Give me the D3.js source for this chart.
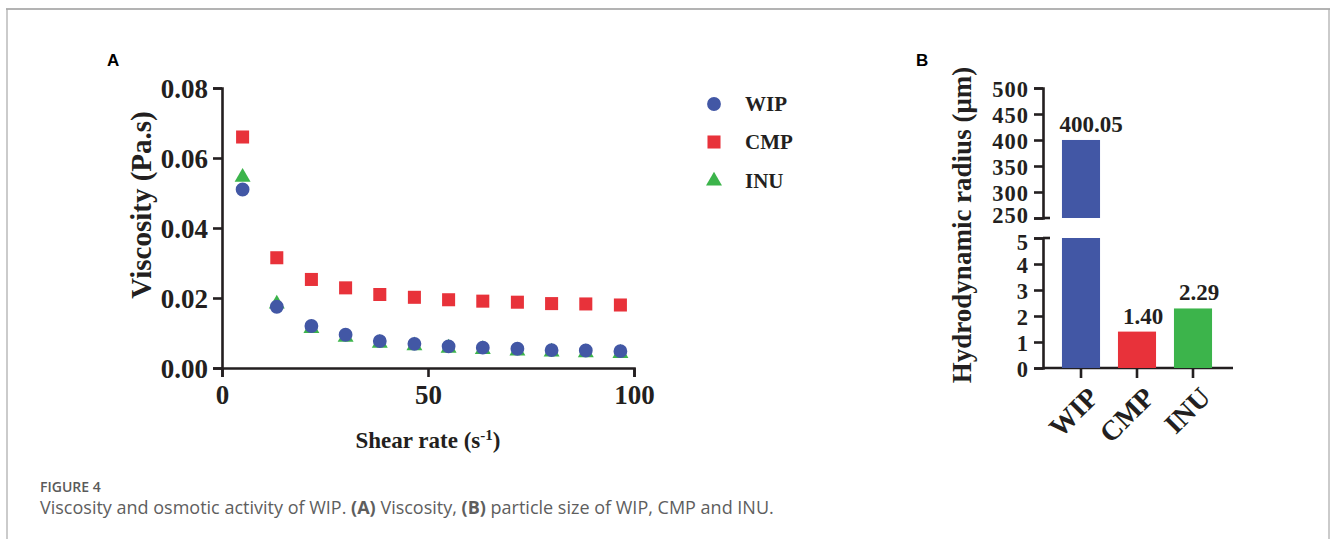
<!DOCTYPE html>
<html>
<head>
<meta charset="utf-8">
<script src="https://cdn.jsdelivr.net/npm/d3@7"></script>
<style>
  body { margin: 0; background: #fff; }
  svg { display: block; }
</style>
</head>
<body>
<div id="chart"></div>
<script>
// panel A: viscosity vs shear rate
const shearRates = [5, 13.3, 21.7, 30, 38.3, 46.7, 55, 63.3, 71.7, 80, 88.3, 96.7];
const wipVisc = [0.051, 0.0175, 0.012, 0.0095, 0.0077, 0.0069, 0.0062, 0.0058, 0.0055, 0.0051, 0.005, 0.0048];
const cmpVisc = [0.066, 0.0315, 0.0253, 0.0229, 0.021, 0.0202, 0.0195, 0.0191, 0.0188, 0.0184, 0.0183, 0.018];
const inuVisc = [0.0545, 0.0183, 0.0113, 0.0088, 0.0071, 0.0064, 0.0057, 0.0053, 0.0049, 0.0046, 0.0044, 0.0042];
const viscTicks = [0, 0.02, 0.04, 0.06, 0.08];
const shearTicks = [0, 50, 100];

// panel B: particle size
const samples = ["WIP", "CMP", "INU"];
const radius = [400.05, 1.40, 2.29];
const lowTicks = [0, 1, 2, 3, 4, 5];
const highTicks = [250, 300, 350, 400, 450, 500];

const colors = { WIP: "#4257a5", CMP: "#e8323a", INU: "#3cb44b" };
const serif = "'Liberation Serif', 'Times New Roman', serif";
const ink = "#231f20";

const W = 1330, H = 539;
const svg = d3.select("#chart").append("svg").attr("width", W).attr("height", H);

// figure frame
svg.append("line").attr("x1", 6).attr("x2", W).attr("y1", 9).attr("y2", 9)
  .attr("stroke", "#b3b3b3").attr("stroke-width", 2);
svg.append("line").attr("x1", 7).attr("x2", 7).attr("y1", 9).attr("y2", H)
  .attr("stroke", "#a8a8a8").attr("stroke-width", 1.2);
svg.append("line").attr("x1", 1329).attr("x2", 1329).attr("y1", 9).attr("y2", H)
  .attr("stroke", "#a8a8a8").attr("stroke-width", 1.2);

// panel letters
svg.append("text").attr("x", 107).attr("y", 66).text("A")
  .style("font-family", "Arial, 'Liberation Sans', sans-serif").style("font-weight", "bold").style("font-size", "17px");
svg.append("text").attr("x", 916).attr("y", 66).text("B")
  .style("font-family", "Arial, 'Liberation Sans', sans-serif").style("font-weight", "bold").style("font-size", "17px");

function styleAxis(g, size) {
  g.select(".domain").attr("stroke", ink).attr("stroke-width", 2.6);
  g.selectAll(".tick line").attr("stroke", ink).attr("stroke-width", 2.6);
  g.selectAll(".tick text").attr("fill", ink)
    .style("font-family", serif).style("font-weight", "bold").style("font-size", size + "px");
}

// ---------- Panel A ----------
const x = d3.scaleLinear().domain([0, 100]).range([222, 634]);
const y = d3.scaleLinear().domain([0, 0.08]).range([368, 88]);

const ax = svg.append("g").attr("transform", "translate(0,368)")
  .call(d3.axisBottom(x).tickValues(shearTicks).tickSizeOuter(0).tickSize(9).tickPadding(8));
styleAxis(ax, 27);

const ay = svg.append("g").attr("transform", "translate(222,0)")
  .call(d3.axisLeft(y).tickValues(viscTicks).tickFormat(d3.format(".2f")).tickSizeOuter(0).tickSize(9).tickPadding(5));
styleAxis(ay, 27);
ay.selectAll(".tick text").attr("dy", "0.36em");

svg.append("text")
  .attr("transform", "translate(151,205) rotate(-90)")
  .attr("text-anchor", "middle")
  .style("font-family", serif).style("font-weight", "bold").style("font-size", "29px").attr("fill", ink)
  .text("Viscosity (Pa.s)");

const xl = svg.append("text").attr("x", 428).attr("y", 448).attr("text-anchor", "middle")
  .style("font-family", serif).style("font-weight", "bold").style("font-size", "23px").attr("fill", ink);
xl.append("tspan").text("Shear rate (s");
xl.append("tspan").text("-1").attr("dy", -8).style("font-size", "15px");
xl.append("tspan").text(")").attr("dy", 8);

const rows = shearRates.map((s, i) => ({ s, WIP: wipVisc[i], CMP: cmpVisc[i], INU: inuVisc[i] }));
const sym = {
  WIP: d3.symbol(d3.symbolCircle, 150),
  CMP: d3.symbol(d3.symbolSquare, 170),
  INU: d3.symbol(d3.symbolTriangle, 110)
};
["CMP", "INU", "WIP"].forEach(k => {
  svg.append("g").selectAll("path").data(rows).enter().append("path")
    .attr("transform", d => `translate(${x(d.s)},${y(d[k])})`)
    .attr("d", sym[k]).attr("fill", colors[k]);
});

// legend
const legY = [104, 142, 181];
samples.forEach((k, i) => {
  svg.append("path").attr("transform", `translate(714,${legY[i]})`).attr("d", sym[k]).attr("fill", colors[k]);
  svg.append("text").attr("x", 745).attr("y", legY[i] + 7).text(k)
    .style("font-family", serif).style("font-weight", "bold").style("font-size", "21px").attr("fill", ink);
});

// ---------- Panel B ----------
const xb = d3.scaleBand().domain(samples).range([1053, 1221]).paddingInner(0.32).paddingOuter(0.16);
const yLow = d3.scaleLinear().domain([0, 5]).range([368, 238]);
const yHigh = d3.scaleLinear().domain([250, 500]).range([218, 88]);

const bx = svg.append("g").attr("transform", "translate(0,368)")
  .call(d3.axisBottom(xb).tickSizeOuter(0).tickSize(10).tickFormat(""));
bx.select(".domain").attr("d", "M1043,0H1233");
bx.selectAll(".tick").append("text")
  .attr("transform", "translate(5,17) rotate(-45)")
  .attr("text-anchor", "end").attr("dy", "0.71em")
  .text(d => d);
styleAxis(bx, 28);

// tick labels kept a touch smaller so neighbouring labels don't collide
const byl = svg.append("g").attr("transform", "translate(1043,0)")
  .call(d3.axisLeft(yLow).tickValues(lowTicks).tickFormat(d3.format("d")).tickSizeOuter(0).tickSize(9).tickPadding(5));
styleAxis(byl, 22.5);
byl.selectAll(".tick text").attr("dy", d => d === 5 ? "0.5em" : "0.36em").style("letter-spacing", "1px");
const byh = svg.append("g").attr("transform", "translate(1043,0)")
  .call(d3.axisLeft(yHigh).tickValues(highTicks).tickSizeOuter(0).tickSize(9).tickPadding(5));
styleAxis(byh, 22.5);
byh.selectAll(".tick text").attr("dy", d => d === 250 ? "0.22em" : "0.36em").style("letter-spacing", "1px");
// break caps on the inner side of the axis
svg.append("line").attr("x1", 1043).attr("x2", 1050).attr("y1", yHigh(250)).attr("y2", yHigh(250)).attr("stroke", ink).attr("stroke-width", 2.6);
svg.append("line").attr("x1", 1043).attr("x2", 1050).attr("y1", yLow(5)).attr("y2", yLow(5)).attr("stroke", ink).attr("stroke-width", 2.6);

svg.append("text")
  .attr("transform", "translate(971,225) rotate(-90)")
  .attr("text-anchor", "middle")
  .style("font-family", serif).style("font-weight", "bold").style("font-size", "27px").attr("fill", ink)
  .text("Hydrodynamic radius (μm)");

const bars = samples.map((k, i) => ({ k, v: radius[i] }));
// lower segment
svg.append("g").selectAll("rect").data(bars).enter().append("rect")
  .attr("x", d => xb(d.k)).attr("width", xb.bandwidth())
  .attr("y", d => yLow(Math.min(d.v, 5))).attr("height", d => yLow(0) - yLow(Math.min(d.v, 5)))
  .attr("fill", d => colors[d.k]);
// upper segment
svg.append("g").selectAll("rect").data(bars.filter(d => d.v > 250)).enter().append("rect")
  .attr("x", d => xb(d.k)).attr("width", xb.bandwidth())
  .attr("y", d => yHigh(d.v)).attr("height", d => yHigh(250) - yHigh(d.v))
  .attr("fill", d => colors[d.k]);
// value labels
svg.append("g").selectAll("text").data(bars).enter().append("text")
  .attr("x", d => xb(d.k) + xb.bandwidth() / 2 + (d.v > 250 ? 10 : 6))
  .attr("y", d => (d.v > 250 ? yHigh(d.v) : yLow(d.v)) - 8)
  .attr("text-anchor", "middle")
  .style("font-family", serif).style("font-weight", "bold").style("font-size", "23px").attr("fill", ink)
  .text(d => d3.format(".2f")(d.v));

// ---------- Caption ----------
svg.append("text").attr("x", 40).attr("y", 492).text("FIGURE 4")
  .style("font-family", "'Open Sans', sans-serif").style("font-weight", "600").style("font-size", "14px").attr("fill", "#5a5a5a");
const cap = svg.append("text").attr("x", 40).attr("y", 514)
  .style("font-family", "'Open Sans', sans-serif").style("font-size", "18px").attr("fill", "#5e5e5e");
cap.append("tspan").text("Viscosity and osmotic activity of WIP. ");
cap.append("tspan").text("(A)").style("font-weight", "bold");
cap.append("tspan").text(" Viscosity, ");
cap.append("tspan").text("(B)").style("font-weight", "bold");
cap.append("tspan").text(" particle size of WIP, CMP and INU.");
</script>
</body>
</html>
